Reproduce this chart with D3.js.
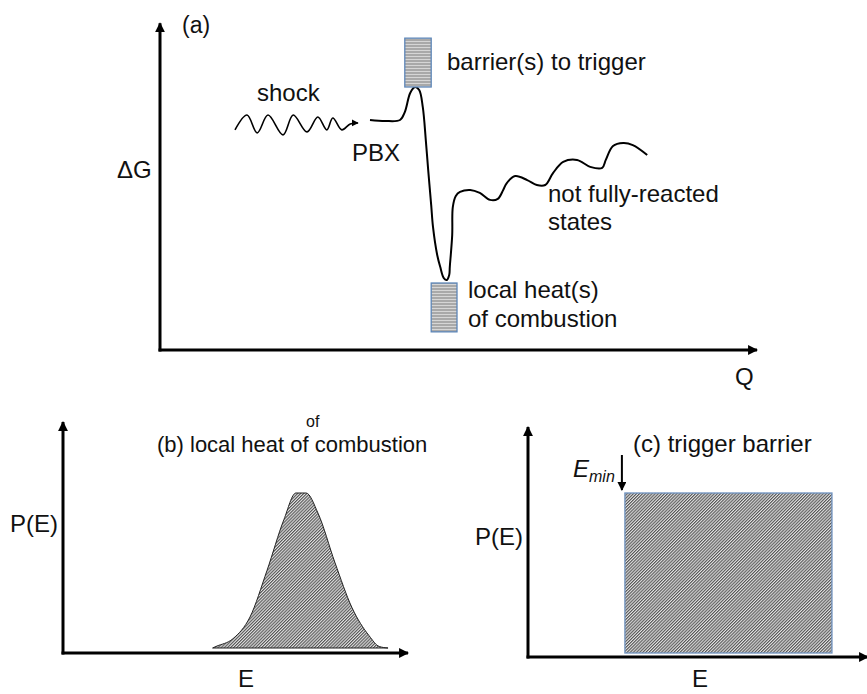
<!DOCTYPE html>
<html>
<head>
<meta charset="utf-8">
<script src="https://cdn.jsdelivr.net/npm/d3@7"></script>
<style>
  body { margin: 0; background: #fff; }
  text { font-family: Arial, "Liberation Sans", sans-serif; fill: #111; }
</style>
</head>
<body>
<div id="chart"></div>
<script>
// ---- data ----
// (a) free energy profile along reaction coordinate Q
const profileQ = [3.50, 3.75, 4.00, 4.08, 4.17, 4.25, 4.32, 4.38, 4.43, 4.47, 4.52, 4.55, 4.62, 4.67, 4.73, 4.78, 4.82, 4.83, 4.87, 4.88, 4.93, 5.00, 5.17, 5.33, 5.50, 5.63, 5.72, 5.78, 5.92, 6.12, 6.28, 6.42, 6.55, 6.72, 6.95, 7.17, 7.37, 7.43, 7.55, 7.72, 7.88, 8.12];
const profileG = [6.97, 6.94, 6.97, 7.21, 7.79, 7.97, 7.88, 7.36, 6.36, 5.45, 4.39, 3.73, 2.88, 2.52, 2.18, 2.12, 2.27, 2.52, 3.48, 4.33, 4.67, 4.79, 4.85, 4.76, 4.55, 4.58, 4.85, 5.06, 5.27, 5.15, 5.00, 5.00, 5.36, 5.70, 5.76, 5.55, 5.52, 5.76, 6.18, 6.27, 6.21, 5.91];

// shock squiggle
const shockQ = [1.25, 1.45, 1.62, 1.80, 2.05, 2.22, 2.45, 2.63, 2.78, 2.88, 3.03, 3.17, 3.30];
const shockG = [6.67, 7.12, 6.58, 7.12, 6.52, 7.12, 6.61, 7.06, 6.67, 7.03, 6.67, 6.85, 6.88];

// shaded boxes [q0, q1, g0, g1]
const barrierBox = [4.08, 4.52, 7.97, 9.45];
const heatBox = [4.52, 4.95, 0.55, 2.03];

// (b) distribution of local heat of combustion
const heatE = [4.40, 4.50, 5.00, 5.50, 6.00, 6.50, 6.85, 7.15, 7.50, 8.00, 8.50, 9.00, 9.30, 9.56];
const heatP = [0.00, 0.01, 0.06, 0.20, 0.50, 0.83, 1.00, 1.00, 0.87, 0.55, 0.26, 0.08, 0.01, 0.00];

// (c) flat trigger barrier distribution
const triggerE = [2.85, 8.94];
const triggerP = 1.0;

// ---- drawing ----
const width = 867, height = 694;

const svg = d3.select("#chart").append("svg")
    .attr("width", width)
    .attr("height", height);

const defs = svg.append("defs");

// arrow head for axes
defs.append("marker")
    .attr("id", "head")
    .attr("viewBox", "0 0 10 10")
    .attr("refX", 9).attr("refY", 5)
    .attr("markerWidth", 3.3).attr("markerHeight", 3.3)
    .attr("markerUnits", "strokeWidth")
    .attr("orient", "auto")
    .append("path").attr("d", "M0,0 L10,5 L0,10 z").attr("fill", "#000");

defs.append("marker")
    .attr("id", "headSmall")
    .attr("viewBox", "0 0 10 10")
    .attr("refX", 9).attr("refY", 5)
    .attr("markerWidth", 4.5).attr("markerHeight", 4.5)
    .attr("markerUnits", "strokeWidth")
    .attr("orient", "auto")
    .append("path").attr("d", "M0,0 L10,5 L0,10 z").attr("fill", "#000");

// horizontal stripes for the small boxes
let stripes = defs.append("pattern")
    .attr("id", "stripes")
    .attr("patternUnits", "userSpaceOnUse")
    .attr("width", 6).attr("height", 3);
stripes.append("rect").attr("width", 6).attr("height", 3).attr("fill", "#a9a9a9");
stripes.append("rect").attr("y", 2).attr("width", 6).attr("height", 1).attr("fill", "#d6d6d6");

// fine diagonal hatch for the distributions
let hatch = defs.append("pattern")
    .attr("id", "hatch")
    .attr("patternUnits", "userSpaceOnUse")
    .attr("width", 2.2).attr("height", 2.2)
    .attr("patternTransform", "rotate(45)");
hatch.append("rect").attr("width", 2.2).attr("height", 2.2).attr("fill", "#e2e2e2");
hatch.append("rect").attr("width", 1.1).attr("height", 2.2).attr("fill", "#555");

function axes(x0, y0, xTip, yTip) {
    svg.append("line")
        .attr("x1", x0).attr("y1", y0 + 1.5)
        .attr("x2", x0).attr("y2", yTip)
        .attr("stroke", "#000").attr("stroke-width", 3)
        .attr("marker-end", "url(#head)");
    svg.append("line")
        .attr("x1", x0 - 1.5).attr("y1", y0)
        .attr("x2", xTip).attr("y2", y0)
        .attr("stroke", "#000").attr("stroke-width", 3)
        .attr("marker-end", "url(#head)");
}

function label(x, y, txt, size) {
    return svg.append("text")
        .attr("x", x).attr("y", y)
        .attr("font-size", size || 24)
        .text(txt);
}

// ===== panel (a) =====
const qScale = d3.scaleLinear().domain([0, 10]).range([160, 760]);
const gScale = d3.scaleLinear().domain([0, 10]).range([350, 20]);

axes(qScale(0), gScale(0), qScale(9.95), gScale(9.9));

let line = d3.line()
    .x(d => qScale(d[0]))
    .y(d => gScale(d[1]))
    .curve(d3.curveCatmullRom);

svg.append("path")
    .datum(d3.zip(profileQ, profileG))
    .attr("d", line)
    .attr("fill", "none")
    .attr("stroke", "#000")
    .attr("stroke-width", 2);

svg.append("path")
    .datum(d3.zip(shockQ, shockG))
    .attr("d", line)
    .attr("fill", "none")
    .attr("stroke", "#000")
    .attr("stroke-width", 1.6)
    .attr("marker-end", "url(#headSmall)");

[barrierBox, heatBox].forEach(b => {
    svg.append("rect")
        .attr("x", qScale(b[0]))
        .attr("y", gScale(b[3]))
        .attr("width", qScale(b[1]) - qScale(b[0]))
        .attr("height", gScale(b[2]) - gScale(b[3]))
        .attr("fill", "url(#stripes)")
        .attr("stroke", "#5d86b8")
        .attr("stroke-width", 1.3);
});

label(182, 33, "(a)", 23);
label(117, 178, "\u0394G");
label(735, 385, "Q");
label(257, 101, "shock");
label(352, 161, "PBX");
label(447, 70, "barrier(s) to trigger");
label(468, 298, "local heat(s)");
label(468, 327, "of combustion");
label(548, 202, "not fully-reacted");
label(548, 230, "states");

// ===== panel (b) =====
const eScaleB = d3.scaleLinear().domain([0, 10]).range([63, 403]);
const pScaleB = d3.scaleLinear().domain([0, 1]).range([648, 493]);

axes(63, 653, 408, 422);

let area = d3.area()
    .x(d => eScaleB(d[0]))
    .y0(pScaleB(0))
    .y1(d => pScaleB(d[1]))
    .curve(d3.curveMonotoneX);

svg.append("path")
    .datum(d3.zip(heatE, heatP))
    .attr("d", area)
    .attr("fill", "url(#hatch)")
    .attr("stroke", "#222")
    .attr("stroke-width", 1);

label(157, 452, "(b) local heat of combustion", 22);
label(306, 427, "of", 16);
label(10, 532, "P(E)");
label(238, 687, "E");

// ===== panel (c) =====
const eScaleC = d3.scaleLinear().domain([0, 10]).range([528, 868]);
const pScaleC = d3.scaleLinear().domain([0, 1]).range([653, 493]);

axes(528, 657, 868, 427);

svg.append("rect")
    .attr("x", eScaleC(triggerE[0]))
    .attr("y", pScaleC(triggerP))
    .attr("width", eScaleC(triggerE[1]) - eScaleC(triggerE[0]))
    .attr("height", pScaleC(0) - pScaleC(triggerP))
    .attr("fill", "url(#hatch)")
    .attr("stroke", "#6f92bf")
    .attr("stroke-width", 1.3);

// E_min arrow
svg.append("line")
    .attr("x1", eScaleC(triggerE[0]) - 3).attr("y1", 455)
    .attr("x2", eScaleC(triggerE[0]) - 3).attr("y2", 490)
    .attr("stroke", "#000").attr("stroke-width", 2)
    .attr("marker-end", "url(#headSmall)");

let emin = svg.append("text")
    .attr("x", 573).attr("y", 477)
    .attr("font-size", 24)
    .attr("font-style", "italic");
emin.append("tspan").text("E");
emin.append("tspan").attr("font-size", 16).attr("dy", 5).text("min");

label(633, 452, "(c) trigger barrier");
label(475, 545, "P(E)");
label(692, 687, "E");
</script>
</body>
</html>
